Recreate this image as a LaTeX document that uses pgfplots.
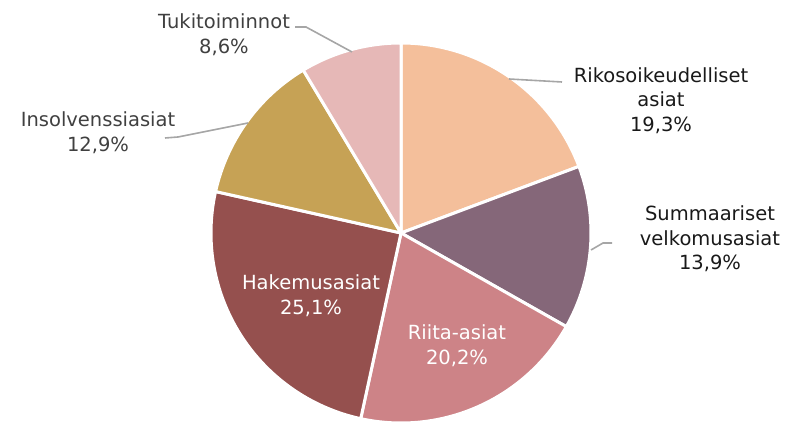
\documentclass[border=0pt]{standalone}
\usepackage{pgfplots}
\pgfplotsset{compat=1.18}
\usepackage{fontspec}
\setmainfont{DejaVu Sans}

\definecolor{rikos}{HTML}{F4BF9B}
\definecolor{summ}{HTML}{856779}
\definecolor{riita}{HTML}{CD8387}
\definecolor{hakemus}{HTML}{95504E}
\definecolor{insol}{HTML}{C6A255}
\definecolor{tuki}{HTML}{E6B8B7}
\definecolor{leader}{HTML}{A6A6A6}
\definecolor{darktxt}{HTML}{404040}

% slice from cumulative share #1 to #2 (percent), clockwise from 12 o'clock
\newcommand{\slice}[3]{%
  \filldraw[fill=#3,draw=white,line width=3pt,line join=round]
    (axis cs:401,190) -- ++({90-(#1)*3.6}:190pt)
    arc[start angle={90-(#1)*3.6}, end angle={90-(#2)*3.6}, radius=190pt] -- cycle;}

\begin{document}
\begin{tikzpicture}
\begin{axis}[x=1pt,y=1pt,xmin=0,xmax=785,ymin=0,ymax=423,hide axis,clip=false]
\path (axis cs:0,0) rectangle (axis cs:785,423);

\slice{0}{19.3}{rikos}
\slice{19.3}{19.3+13.9}{summ}
\slice{33.2}{33.2+20.2}{riita}
\slice{53.4}{53.4+25.1}{hakemus}
\slice{78.5}{78.5+12.9}{insol}
\slice{91.4}{91.4+8.6}{tuki}

\draw[leader,line width=1.6pt] (axis cs:295,396) -- (axis cs:306,396) -- (axis cs:352,371);
\draw[leader,line width=1.6pt] (axis cs:509,344) -- (axis cs:562,341);
\draw[leader,line width=1.6pt] (axis cs:591,173) -- (axis cs:603,180) -- (axis cs:612,180);
\draw[leader,line width=1.6pt] (axis cs:165,285) -- (axis cs:178,286) -- (axis cs:248,300);

\tikzset{lbl/.style={align=center,inner sep=0pt,font=\fontsize{19.5}{24.5}\selectfont}}
\node[lbl,text=darktxt] at (axis cs:224,388.5) {Tukitoiminnot\\8,6\%};
\node[lbl,text=black!90] at (axis cs:661,322.5) {Rikosoikeudelliset\\asiat\\19,3\%};
\node[lbl,text=black!90] at (axis cs:710,184) {Summaariset\\velkomusasiat\\13,9\%};
\node[lbl,text=darktxt] at (axis cs:98,290.5) {Insolvenssiasiat\\12,9\%};
\node[lbl,text=white] at (axis cs:311,127.5) {Hakemusasiat\\25,1\%};
\node[lbl,text=white] at (axis cs:457,77.5) {Riita-asiat\\20,2\%};
\end{axis}
\end{tikzpicture}
\end{document}
